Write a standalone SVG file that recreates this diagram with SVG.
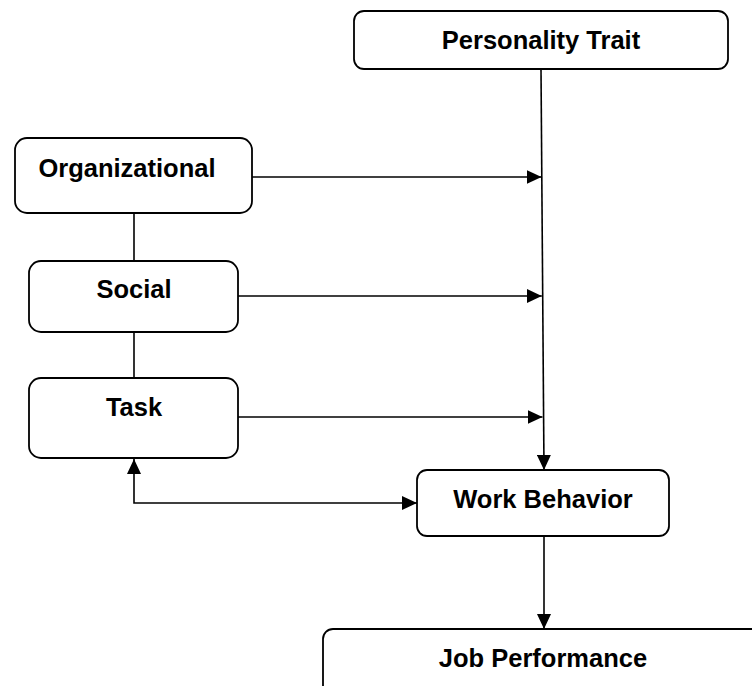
<svg xmlns="http://www.w3.org/2000/svg" width="752" height="686" viewBox="0 0 752 686">
<style>
.box{fill:#fff;stroke:#000;stroke-width:1.8}
.lbl{font-family:"Liberation Sans",Arial,sans-serif;font-weight:bold;font-size:25.5px;fill:#000;text-anchor:middle}
.ln{fill:none;stroke:#000;stroke-width:1.6}
</style>
<defs>
<marker id="ah" markerWidth="16" markerHeight="14" refX="15" refY="7" orient="auto-start-reverse" markerUnits="userSpaceOnUse">
<path d="M0,0 L15,7 L0,14 Z" fill="#000"/>
</marker>
</defs>
<rect width="752" height="686" fill="#fff"/>
<g id="connectors">
<line class="ln" x1="134" y1="213" x2="134" y2="261"/>
<line class="ln" x1="134" y1="332" x2="134" y2="378"/>
<line class="ln" x1="252" y1="177" x2="541.5" y2="177" marker-end="url(#ah)"/>
<line class="ln" x1="238" y1="296" x2="541.8" y2="296" marker-end="url(#ah)"/>
<line class="ln" x1="238" y1="417" x2="542.5" y2="417" marker-end="url(#ah)"/>
<line class="ln" x1="541" y1="69" x2="544" y2="470" marker-end="url(#ah)"/>
<line class="ln" x1="544" y1="536" x2="544" y2="629" marker-end="url(#ah)"/>
<polyline class="ln" points="134,459 134,503 417,503" marker-start="url(#ah)" marker-end="url(#ah)"/>
</g>
<g id="personality">
<rect class="box" x="354" y="11" width="374" height="58" rx="10"/>
<text class="lbl" x="541" y="49">Personality Trait</text>
</g>
<g id="organizational">
<rect class="box" x="15" y="138" width="237" height="75" rx="12"/>
<text class="lbl" x="127" y="177">Organizational</text>
</g>
<g id="social">
<rect class="box" x="29" y="261" width="209" height="71" rx="12"/>
<text class="lbl" x="134" y="298">Social</text>
</g>
<g id="task">
<rect class="box" x="29" y="378" width="209" height="80" rx="12"/>
<text class="lbl" x="134" y="416">Task</text>
</g>
<g id="work-behavior">
<rect class="box" x="417" y="470" width="252" height="66" rx="10"/>
<text class="lbl" x="543" y="508">Work Behavior</text>
</g>
<g id="job-performance">
<rect class="box" x="323" y="629" width="460" height="80" rx="10"/>
<text class="lbl" x="543" y="667">Job Performance</text>
</g>
</svg>
